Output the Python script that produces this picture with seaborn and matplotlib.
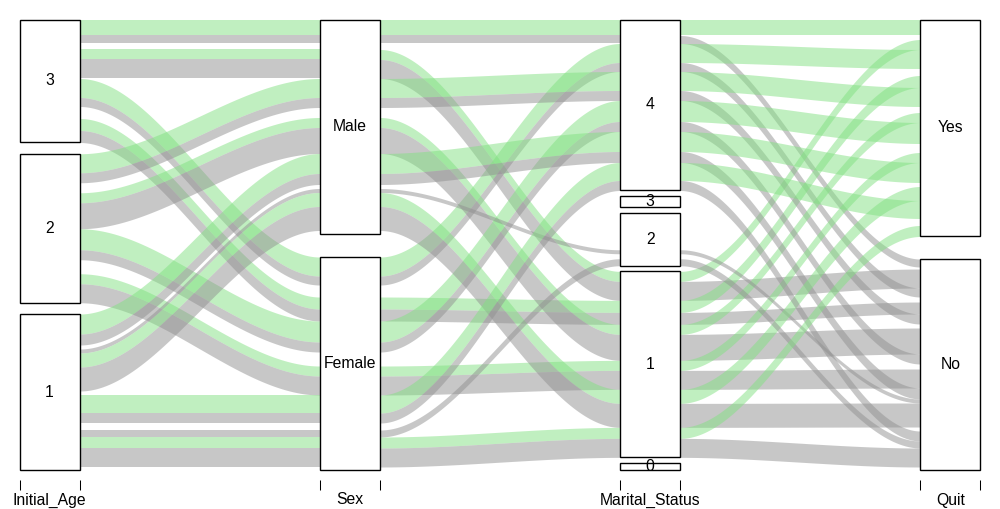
import numpy as np
import matplotlib
matplotlib.use("Agg")
import matplotlib.pyplot as plt
from matplotlib.patches import Rectangle
import seaborn as sns
import pandas as pd

# ---- data: one row per alluvium (combination) ----
initial_age = [1, 1, 1, 1, 1, 1, 1, 1,
               1, 1, 1, 1, 1, 1, 1, 1,
               2, 2, 2, 2, 2, 2, 2,
               2, 2, 2, 2, 2, 2, 2,
               3, 3, 3, 3, 3, 3, 3,
               3, 3, 3, 3, 3, 3]
sex = ["Female"] * 8 + ["Male"] * 8 + ["Female"] * 7 + ["Male"] * 7 + ["Female"] * 7 + ["Male"] * 6
marital_status = [0, 1, 1, 2, 2, 3, 4, 4,
                  0, 1, 1, 2, 2, 3, 4, 4,
                  1, 1, 2, 2, 3, 4, 4,
                  1, 1, 2, 2, 3, 4, 4,
                  1, 1, 2, 2, 3, 4, 4,
                  1, 1, 2, 3, 4, 4]
quit = ["No", "No", "Yes", "No", "Yes", "Yes", "No", "Yes",
        "No", "No", "Yes", "No", "Yes", "Yes", "No", "Yes",
        "No", "Yes", "No", "Yes", "No", "No", "Yes",
        "No", "Yes", "No", "Yes", "Yes", "No", "Yes",
        "No", "Yes", "No", "Yes", "Yes", "No", "Yes",
        "No", "Yes", "Yes", "No", "No", "Yes"]
freq = [3, 19, 11, 7, 5, 2, 10, 18,
        4, 24, 14, 4, 3, 1, 11, 20,
        19, 10, 3, 9, 2, 10, 21,
        26, 10, 4, 4, 2, 10, 19,
        12, 12, 5, 5, 2, 9, 19,
        19, 10, 4, 2, 8, 16]
hidden = [True, False, False, False, True, True, False, False,
          True, False, False, False, True, True, False, False,
          False, False, True, True, True, False, False,
          False, False, True, True, True, False, False,
          False, False, True, True, True, False, False,
          False, False, True, True, False, False]

dim_names = ["Initial_Age", "Sex", "Marital_Status", "Quit"]
levels = {
    "Initial_Age": [1, 2, 3],
    "Sex": ["Female", "Male"],
    "Marital_Status": [0, 1, 2, 3, 4],
    "Quit": ["No", "Yes"],
}
quit_colors = {"Yes": "#82E182", "No": "#919191"}
alpha = 0.5
gap_width = 0.05
cw = 0.1

sns.set_theme(style="white")
plt.rcParams['font.family'] = ['Liberation Sans', 'DejaVu Sans']

df = pd.DataFrame({
    "Initial_Age": initial_age,
    "Sex": sex,
    "Marital_Status": marital_status,
    "Quit": quit,
    "Freq": freq,
    "Hidden": hidden,
})
for d in dim_names:
    df[d] = pd.Categorical(df[d], categories=levels[d], ordered=True)

n = len(df)
npd = len(dim_names)
codes = np.column_stack([df[d].cat.codes.to_numpy() for d in dim_names])
f = df["Freq"].to_numpy(dtype=float)
f = f / f.sum()


def getp(i, w=gap_width):
    keys = [i] + [k for k in range(npd) if k != i]
    o = np.lexsort([codes[:, k] for k in reversed(keys)])
    x = np.concatenate([[0.0], np.cumsum(f[o])]) * (1 - w)
    lo, hi = x[:-1], x[1:]
    gap = np.concatenate([[0], np.cumsum(np.diff(codes[o, i]) != 0)]).astype(float)
    mx = gap.max() if gap.max() > 0 else 1.0
    gap = gap / mx * w
    res = np.empty((n, 2))
    res[o, 0] = lo + gap
    res[o, 1] = hi + gap
    return res


pos = [getp(i) for i in range(npd)]

fig = plt.figure(figsize=(10, 5.09), dpi=100)
ax = fig.add_axes([19.5 / 1000, 39 / 509, 961 / 1000, 450.5 / 509])
ax.set_xlim(1 - cw, npd + cw)
ax.set_ylim(0, 1)

# flows
for r in reversed(range(n)):
    if df["Hidden"].iloc[r]:
        continue
    col = quit_colors[df["Quit"].iloc[r]]
    for j in range(npd - 1):
        x0, x1 = j + 1 + cw, j + 2 - cw
        xs = np.linspace(x0, x1, 200)
        t = (xs - x0) / (x1 - x0)
        s = 3 * t ** 2 - 2 * t ** 3
        lo = pos[j][r, 0] + (pos[j + 1][r, 0] - pos[j][r, 0]) * s
        hi = pos[j][r, 1] + (pos[j + 1][r, 1] - pos[j][r, 1]) * s
        ax.fill_between(xs, lo, hi, color=col, alpha=alpha, linewidth=0)

# blocks
for i, d in enumerate(dim_names):
    for k, lev in enumerate(levels[d]):
        mask = codes[:, i] == k
        if not mask.any():
            continue
        ymin = pos[i][mask, 0].min()
        ymax = pos[i][mask, 1].max()
        ax.add_patch(Rectangle((i + 1 - cw, ymin), 2 * cw, ymax - ymin,
                               facecolor="white", edgecolor="black",
                               linewidth=1.0, zorder=5, clip_on=False))
        ax.text(i + 1, (ymin + ymax) / 2, str(lev), ha="center", va="center",
                fontsize=11.3, color="black", zorder=6, clip_on=True)

# axis ticks and labels
edges = []
for i in range(npd):
    edges += [i + 1 - cw, i + 1 + cw]
ax.set_xticks(edges)
ax.set_xticklabels([""] * len(edges))
ax.set_xticks(np.arange(1, npd + 1), minor=True)
ax.set_xticklabels(dim_names, minor=True)
ax.tick_params(axis="x", which="major", bottom=True, length=7.2, width=0.75,
               color="black", direction="out")
ax.tick_params(axis="x", which="minor", bottom=True, length=0, pad=9,
               labelsize=11.3, labelcolor="black")
ax.set_yticks([])
ax.spines["bottom"].set_position(("outward", 7.2))
for sp in ax.spines.values():
    sp.set_visible(False)
ax.set_facecolor("white")
fig.patch.set_facecolor("white")

fig.savefig("out.png", dpi=100, facecolor="white")
